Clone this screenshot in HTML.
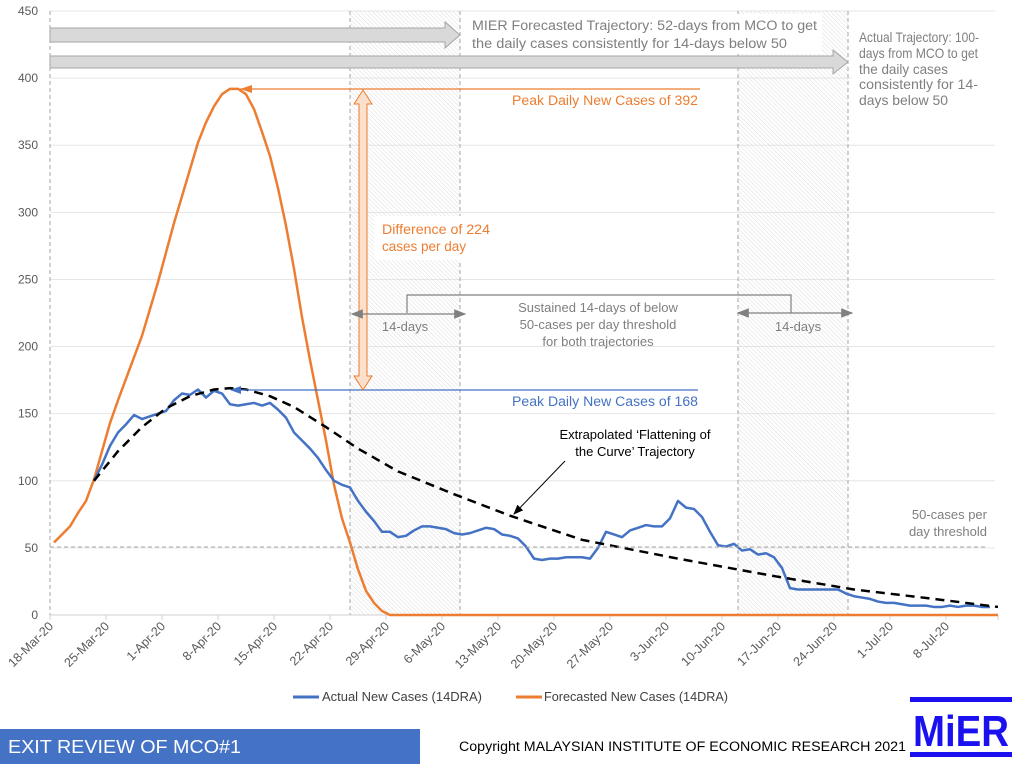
<!DOCTYPE html>
<html><head><meta charset="utf-8"><style>
body{margin:0;background:#fff;}
svg text{font-family:"Liberation Sans",sans-serif;}
</style></head><body>
<svg id="chart" width="1018" height="764" viewBox="0 0 1018 764" xmlns="http://www.w3.org/2000/svg">
<defs>
<pattern id="hatch" patternUnits="userSpaceOnUse" width="3" height="3" patternTransform="rotate(-45)">
<line x1="0" y1="0" x2="0" y2="3" stroke="#d4d4d4" stroke-width="0.8"/>
</pattern>
<marker id="ahBlack" markerWidth="10" markerHeight="8" refX="9" refY="4" orient="auto"><path d="M0,0 L10,4 L0,8 z" fill="#000"/></marker>
<marker id="ahGray" markerWidth="10" markerHeight="8" refX="9" refY="4" orient="auto"><path d="M0,0 L10,4 L0,8 z" fill="#808080"/></marker>
<marker id="ahGrayS" markerWidth="10" markerHeight="8" refX="1" refY="4" orient="auto"><path d="M10,0 L0,4 L10,8 z" fill="#808080"/></marker>
</defs>
<g id="grid"></g>
<g id="shade"></g>
<g id="yaxis"></g>
<g id="xaxis"></g>
<g id="series"></g>
<g id="annot">
  <path d="M50,28 L445,28 L445,22 L460,35 L445,48 L445,42 L50,42 Z" fill="#d9d9d9" stroke="#a6a6a6"/>
  <path d="M50,56 L833,56 L833,50 L848,62 L833,74 L833,68 L50,68 Z" fill="#d9d9d9" stroke="#a6a6a6"/>
  <rect x="462" y="14" width="360" height="40" fill="#fff"/>
  <text x="472" y="30" font-size="13.5" fill="#7f7f7f" textLength="345" lengthAdjust="spacingAndGlyphs">MIER Forecasted Trajectory: 52-days from MCO to get</text>
  <text x="472" y="48" font-size="13.5" fill="#7f7f7f" textLength="315" lengthAdjust="spacingAndGlyphs">the daily cases consistently for 14-days below 50</text>
  <rect x="852" y="22" width="150" height="88" fill="#fff"/>
  <g font-size="14" fill="#7f7f7f">
    <text x="859" y="42" textLength="120" lengthAdjust="spacingAndGlyphs">Actual Trajectory: 100-</text>
    <text x="859" y="58" textLength="119" lengthAdjust="spacingAndGlyphs">days from MCO to get</text>
    <text x="859" y="74" textLength="89" lengthAdjust="spacingAndGlyphs">the daily cases</text>
    <text x="859" y="89" textLength="119" lengthAdjust="spacingAndGlyphs">consistently for 14-</text>
    <text x="859" y="105" textLength="89" lengthAdjust="spacingAndGlyphs">days below 50</text>
  </g>
  <line x1="240" y1="89" x2="700" y2="89" stroke="#ED7D31" stroke-width="1.2"/>
  <path d="M240,89 L252,85 L252,93 Z" fill="#ED7D31"/>
  <text x="698" y="105" text-anchor="end" font-size="13.5" fill="#ED7D31" textLength="186" lengthAdjust="spacingAndGlyphs">Peak Daily New Cases of 392</text>
  <line x1="232" y1="390" x2="698" y2="390" stroke="#4472C4" stroke-width="1.2"/>
  <path d="M230,390 L241,386 L241,394 Z" fill="#4472C4"/>
  <text x="698" y="406" text-anchor="end" font-size="13.5" fill="#4472C4" textLength="186" lengthAdjust="spacingAndGlyphs">Peak Daily New Cases of 168</text>
  <path d="M363,90 L372,104 L367,104 L367,376 L372,376 L363,390 L354,376 L359,376 L359,104 L354,104 Z" fill="#fbe0cc" stroke="#ED7D31" stroke-width="1"/>
  <rect x="374" y="216" width="90" height="44" fill="#fff"/>
  <text x="382" y="234" font-size="13.5" fill="#ED7D31" textLength="108" lengthAdjust="spacingAndGlyphs">Difference of 224</text>
  <text x="382" y="251" font-size="13.5" fill="#ED7D31">cases per day</text>
  <path d="M407,313 L407,295 L791,295 L791,313" fill="none" stroke="#808080" stroke-width="1.2"/>
  <line x1="352" y1="314" x2="465" y2="314" stroke="#808080" stroke-width="1.2" marker-end="url(#ahGray)" marker-start="url(#ahGrayS)"/>
  <line x1="738" y1="313" x2="852" y2="313" stroke="#808080" stroke-width="1.2" marker-end="url(#ahGray)" marker-start="url(#ahGrayS)"/>
  <text x="405" y="331" text-anchor="middle" font-size="13" fill="#7f7f7f">14-days</text>
  <text x="798" y="331" text-anchor="middle" font-size="13" fill="#7f7f7f">14-days</text>
  <g font-size="13" fill="#7f7f7f" text-anchor="middle">
    <text x="598" y="312">Sustained 14-days of below</text>
    <text x="598" y="329">50-cases per day threshold</text>
    <text x="598" y="346">for both trajectories</text>
  </g>
  <g font-size="13" fill="#000" text-anchor="middle">
    <text x="635" y="439">Extrapolated ‘Flattening of</text>
    <text x="635" y="456">the Curve’ Trajectory</text>
  </g>
  <line x1="565" y1="461" x2="514" y2="514" stroke="#000" stroke-width="1" marker-end="url(#ahBlack)"/>
  <line x1="50" y1="547" x2="986" y2="547" stroke="#a6a6a6" stroke-width="1" stroke-dasharray="4,3"/>
  <g font-size="13" fill="#7f7f7f" text-anchor="end">
    <text x="987" y="519">50-cases per</text>
    <text x="987" y="536">day threshold</text>
  </g>
</g>
<g>
  <line x1="293" y1="697" x2="319" y2="697" stroke="#4472C4" stroke-width="3"/>
  <text x="322" y="701" font-size="12.5" fill="#404040" textLength="160" lengthAdjust="spacingAndGlyphs">Actual New Cases (14DRA)</text>
  <line x1="516" y1="697" x2="542" y2="697" stroke="#ED7D31" stroke-width="3"/>
  <text x="544" y="701" font-size="12.5" fill="#404040" textLength="184" lengthAdjust="spacingAndGlyphs">Forecasted New Cases (14DRA)</text>
</g>
<rect x="0" y="729" width="420" height="35" fill="#4472C4"/>
<text x="8" y="753" font-size="18" fill="#fff" textLength="233" lengthAdjust="spacingAndGlyphs">EXIT REVIEW OF MCO#1</text>
<text x="459" y="751" font-size="13.5" fill="#000" textLength="447" lengthAdjust="spacingAndGlyphs">Copyright MALAYSIAN INSTITUTE OF ECONOMIC RESEARCH 2021</text>
<g>
  <rect x="910" y="697" width="102" height="5" fill="#1a10f0"/>
  <rect x="910" y="752" width="102" height="5" fill="#1a10f0"/>
  <text x="961" y="746" text-anchor="middle" font-size="44" font-weight="bold" fill="#1a10f0" textLength="96" lengthAdjust="spacingAndGlyphs">MiER</text>
</g>
</svg>
<script>
const yTicks=[0,50,100,150,200,250,300,350,400,450];
const xTickLabels=["18-Mar-20","25-Mar-20","1-Apr-20","8-Apr-20","15-Apr-20","22-Apr-20","29-Apr-20","6-May-20","13-May-20","20-May-20","27-May-20","3-Jun-20","10-Jun-20","17-Jun-20","24-Jun-20","1-Jul-20","8-Jul-20"];
const forecastValues=[54,60,66,76,85,101,122,143,160,176,192,208,228,248,270,292,312,332,352,367,379,388,392,392,388,377,360,342,318,290,258,222,190,160,130,97,72,54,34,18,9,3,0,0,0,0,0,0,0,0,0,0,0,0,0,0,0,0,0,0,0,0,0,0,0,0,0,0,0,0,0,0,0,0,0,0,0,0,0,0,0,0,0,0,0,0,0,0,0,0,0,0,0,0,0,0,0,0,0,0,0,0,0,0,0,0,0,0,0,0,0,0,0,0,0,0,0,0,0];
const actualStart=5;
const actualValues=[100,112,126,136,142,149,146,148,150,152,160,165,164,168,162,167,165,157,156,157,158,156,158,153,147,136,130,124,117,108,100,97,95,85,77,70,62,62,58,59,63,66,66,65,64,61,60,61,63,65,64,60,59,57,51,42,41,42,42,43,43,43,42,50,62,60,58,63,65,67,66,66,72,85,80,79,73,62,52,51,53,48,49,45,46,43,35,20,19,19,19,19,19,19,16,14,13,12,10,9,9,8,7,7,7,6,6,7,6,7,7,6,6];
const trendDays=[5,8,11,14,17,20,22,24,27,30,34,38,43,50,57,66,78,90,100,110,118];
const trendValues=[100,122,140,154,163,168,169,168,163,155,140,124,107,90,74,56,42,29,19,12,6];
const windowStarts=[37.5,86];
const windowEnds=[51.25,99.75];

const NS="http://www.w3.org/2000/svg";
const X0=50,PX_PER_DAY=8,Y0=615,PX_PER_UNIT=(615-11)/450;
function xDay(d){return X0+4+d*PX_PER_DAY;}
function xTickPos(i){return X0+i*7*PX_PER_DAY;}
function xEdge(d){return X0+d*PX_PER_DAY;}
function yV(v){return Y0-v*PX_PER_UNIT;}
function mk(tag,attrs,parent){const e=document.createElementNS(NS,tag);for(const k in attrs)e.setAttribute(k,attrs[k]);parent.appendChild(e);return e;}

const grid=document.getElementById('grid');
const yaxis=document.getElementById('yaxis');
yTicks.forEach(v=>{
  if(v>0){const g=mk('line',{x1:X0,x2:995,y1:yV(v),y2:yV(v),stroke:'#e6e6e6','stroke-width':1},grid);
  
  }
  const t=mk('text',{x:38,y:yV(v)+4,'text-anchor':'end','font-size':12,fill:'#595959'},yaxis);
  
  
  t.textContent=v;
});
const shade=document.getElementById('shade');
windowStarts.forEach((s,i)=>{
  const r=mk('rect',{x:xEdge(s),y:11,width:xEdge(windowEnds[i])-xEdge(s),height:Y0-11,fill:'url(#hatch)'},shade);
  
  
  [s,windowEnds[i]].forEach(d=>{mk('line',{x1:xEdge(d),x2:xEdge(d),y1:11,y2:Y0,stroke:'#a6a6a6','stroke-dasharray':'4,3'},shade);});
});
mk('line',{x1:X0,x2:X0,y1:11,y2:Y0,stroke:'#a6a6a6','stroke-dasharray':'4,3'},shade);
const xaxis=document.getElementById('xaxis');
mk('line',{x1:X0,x2:998,y1:Y0,y2:Y0,stroke:'#d0d0d0'},xaxis);
xTickLabels.forEach((lab,i)=>{
  const x=xTickPos(i);
  mk('line',{x1:x,x2:x,y1:Y0,y2:Y0+5,stroke:'#d0d0d0'},xaxis);
  const t=mk('text',{x:x+4,y:Y0+12,'text-anchor':'end','font-size':12.5,fill:'#595959',transform:`rotate(-45 ${x+4} ${Y0+12})`},xaxis);
  
  
  t.textContent=lab;
});
mk('line',{x1:998,x2:998,y1:Y0,y2:Y0+5,stroke:'#d0d0d0'},xaxis);

const series=document.getElementById('series');
const fp=forecastValues.map((v,i)=>xDay(i)+','+yV(v)).join(' ');
const f=mk('polyline',{points:fp,fill:'none',stroke:'#ED7D31','stroke-width':2.5,'stroke-linejoin':'round'},series);


const ap=actualValues.map((v,i)=>xDay(i+actualStart)+','+yV(v)).join(' ');
const a=mk('polyline',{points:ap,fill:'none',stroke:'#4472C4','stroke-width':2.5,'stroke-linejoin':'round'},series);


const tp=trendDays.map((d,i)=>xDay(d)+','+yV(trendValues[i])).join(' ');
const tr=mk('polyline',{points:tp,fill:'none',stroke:'#000','stroke-width':2.5,'stroke-dasharray':'9,6'},series);


</script>
</body></html>
